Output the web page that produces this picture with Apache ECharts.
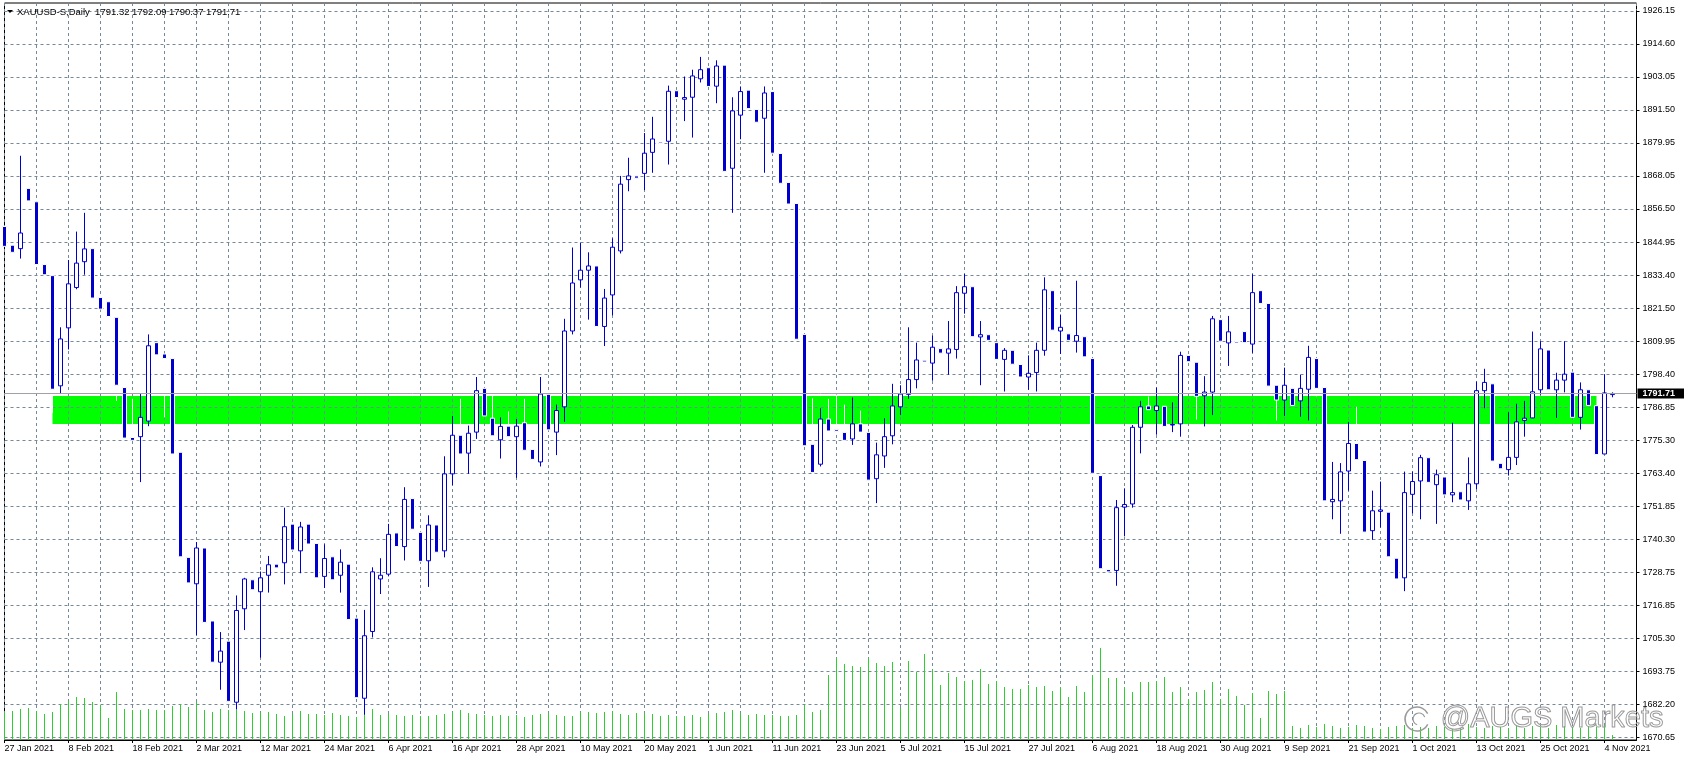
<!DOCTYPE html>
<html><head><meta charset="utf-8">
<script src="https://cdn.jsdelivr.net/npm/echarts@6/dist/echarts.min.js"></script>
<style>html,body{margin:0;padding:0;background:#fff;}#c{width:1684px;height:763px;}</style>
</head><body><div id="c"></div>
<script>
const dates = ['27 Jan 2021','28 Jan 2021','29 Jan 2021',
'1 Feb 2021','2 Feb 2021','3 Feb 2021','4 Feb 2021','5 Feb 2021','8 Feb 2021','9 Feb 2021','10 Feb 2021','11 Feb 2021','12 Feb 2021','15 Feb 2021','16 Feb 2021','17 Feb 2021','18 Feb 2021','19 Feb 2021','22 Feb 2021','23 Feb 2021','24 Feb 2021','25 Feb 2021','26 Feb 2021',
'1 Mar 2021','2 Mar 2021','3 Mar 2021','4 Mar 2021','5 Mar 2021','8 Mar 2021','9 Mar 2021','10 Mar 2021','11 Mar 2021','12 Mar 2021','15 Mar 2021','16 Mar 2021','17 Mar 2021','18 Mar 2021','19 Mar 2021','22 Mar 2021','23 Mar 2021','24 Mar 2021','25 Mar 2021','26 Mar 2021','29 Mar 2021','30 Mar 2021','31 Mar 2021',
'1 Apr 2021','5 Apr 2021','6 Apr 2021','7 Apr 2021','8 Apr 2021','9 Apr 2021','12 Apr 2021','13 Apr 2021','14 Apr 2021','15 Apr 2021','16 Apr 2021','19 Apr 2021','20 Apr 2021','21 Apr 2021','22 Apr 2021','23 Apr 2021','26 Apr 2021','27 Apr 2021','28 Apr 2021','29 Apr 2021','30 Apr 2021',
'3 May 2021','4 May 2021','5 May 2021','6 May 2021','7 May 2021','10 May 2021','11 May 2021','12 May 2021','13 May 2021','14 May 2021','17 May 2021','18 May 2021','19 May 2021','20 May 2021','21 May 2021','24 May 2021','25 May 2021','26 May 2021','27 May 2021','28 May 2021','31 May 2021',
'1 Jun 2021','2 Jun 2021','3 Jun 2021','4 Jun 2021','7 Jun 2021','8 Jun 2021','9 Jun 2021','10 Jun 2021','11 Jun 2021','14 Jun 2021','15 Jun 2021','16 Jun 2021','17 Jun 2021','18 Jun 2021','21 Jun 2021','22 Jun 2021','23 Jun 2021','24 Jun 2021','25 Jun 2021','28 Jun 2021','29 Jun 2021','30 Jun 2021',
'1 Jul 2021','2 Jul 2021','5 Jul 2021','6 Jul 2021','7 Jul 2021','8 Jul 2021','9 Jul 2021','12 Jul 2021','13 Jul 2021','14 Jul 2021','15 Jul 2021','16 Jul 2021','19 Jul 2021','20 Jul 2021','21 Jul 2021','22 Jul 2021','23 Jul 2021','26 Jul 2021','27 Jul 2021','28 Jul 2021','29 Jul 2021','30 Jul 2021',
'2 Aug 2021','3 Aug 2021','4 Aug 2021','5 Aug 2021','6 Aug 2021','9 Aug 2021','10 Aug 2021','11 Aug 2021','12 Aug 2021','13 Aug 2021','16 Aug 2021','17 Aug 2021','18 Aug 2021','19 Aug 2021','20 Aug 2021','23 Aug 2021','24 Aug 2021','25 Aug 2021','26 Aug 2021','27 Aug 2021','30 Aug 2021','31 Aug 2021',
'1 Sep 2021','2 Sep 2021','3 Sep 2021','6 Sep 2021','7 Sep 2021','8 Sep 2021','9 Sep 2021','10 Sep 2021','13 Sep 2021','14 Sep 2021','15 Sep 2021','16 Sep 2021','17 Sep 2021','20 Sep 2021','21 Sep 2021','22 Sep 2021','23 Sep 2021','24 Sep 2021','27 Sep 2021','28 Sep 2021','29 Sep 2021','30 Sep 2021',
'1 Oct 2021','4 Oct 2021','5 Oct 2021','6 Oct 2021','7 Oct 2021','8 Oct 2021','11 Oct 2021','12 Oct 2021','13 Oct 2021','14 Oct 2021','15 Oct 2021','18 Oct 2021','19 Oct 2021','20 Oct 2021','21 Oct 2021','22 Oct 2021','25 Oct 2021','26 Oct 2021','27 Oct 2021','28 Oct 2021','29 Oct 2021',
'1 Nov 2021','2 Nov 2021','3 Nov 2021','4 Nov 2021','5 Nov 2021'];

const opens = [1850.5,1843.9,1842.7,1863.9,1859.2,1837.1,1833.2,1794.4,1814.8,1829.0,
1838.1,1842.7,1825.5,1824.0,1818.5,1793.8,1776.2,1776.5,1782.0,1809.6,
1805.6,1804.0,1771.0,1734.0,1724.7,1737.3,1711.6,1697.1,1704.5,1683.0,
1715.9,1726.1,1721.9,1727.7,1731.6,1732.1,1745.7,1736.3,1745.7,1738.9,
1727.3,1734.2,1727.7,1731.6,1712.6,1684.4,1707.9,1726.4,1728.1,1742.6,
1737.8,1754.7,1742.8,1732.8,1745.4,1736.3,1763.4,1777.0,1770.7,1778.1,
1793.5,1783.0,1775.4,1780.2,1776.5,1781.4,1772.0,1767.6,1791.4,1778.1,
1787.0,1813.7,1831.7,1835.1,1836.6,1815.3,1826.4,1841.9,1867.0,1868.3,
1869.2,1876.6,1880.2,1880.5,1898.3,1895.3,1896.0,1902.5,1906.4,1899.9,
1907.3,1871.0,1889.7,1898.5,1891.7,1888.6,1898.0,1876.2,1866.0,1858.6,
1812.5,1773.8,1766.8,1782.7,1778.9,1778.0,1775.7,1781.0,1778.0,1761.7,
1769.7,1776.8,1787.0,1791.4,1796.6,1803.4,1802.4,1807.5,1805.9,1807.2,
1827.0,1829.3,1811.6,1812.4,1809.6,1803.7,1806.9,1801.9,1797.5,1799.1,
1806.9,1827.9,1813.7,1812.7,1810.1,1811.7,1804.0,1762.8,1729.7,1729.4,
1751.7,1752.8,1779.8,1787.3,1785.7,1787.2,1780.6,1781.0,1805.1,1802.7,
1790.9,1792.2,1817.7,1809.5,1810.0,1813.5,1809.1,1827.9,1823.4,1794.6,
1789.4,1793.5,1789.1,1793.2,1804.0,1793.8,1753.6,1753.9,1764.4,1774.1,
1768.1,1743.4,1750.2,1749.9,1733.7,1726.8,1756.2,1760.9,1769.1,1759.6,
1762.3,1756.0,1757.1,1753.9,1759.9,1792.7,1795.1,1767.1,1764.9,1769.2,
1782.2,1783.1,1793.0,1807.0,1793.0,1796.4,1799.2,1783.3,1793.0,1787.4,
1770.4,1791.32];

const closes = [1843.5,1841.4,1848.2,1859.5,1837.1,1833.5,1793.2,1810.9,1830.3,1837.6,
1842.6,1825.3,1821.4,1818.8,1794.6,1776.0,1775.2,1783.3,1808.5,1805.3,
1804.0,1770.4,1734.2,1725.0,1737.3,1711.1,1697.1,1701.0,1683.3,1715.3,
1726.4,1722.6,1726.8,1731.4,1730.3,1744.8,1736.6,1744.7,1738.7,1726.8,
1733.6,1726.1,1732.3,1712.1,1684.6,1706.4,1728.9,1727.7,1742.1,1737.8,
1754.4,1743.9,1732.6,1745.4,1735.8,1763.4,1777.0,1770.4,1777.7,1792.7,
1783.8,1776.8,1780.1,1776.5,1780.2,1771.7,1768.5,1791.5,1778.9,1785.7,
1813.7,1830.6,1835.1,1836.6,1815.3,1825.3,1843.2,1865.4,1868.3,1867.5,
1876.3,1881.3,1879.7,1898.1,1895.9,1895.9,1903.5,1905.7,1899.8,1907.0,
1869.9,1891.2,1898.0,1892.0,1887.2,1897.5,1876.3,1865.7,1858.4,1810.8,
1773.3,1763.9,1782.7,1778.5,1778.3,1775.2,1781.0,1778.1,1761.2,1770.1,
1776.5,1787.3,1791.5,1796.6,1803.5,1802.8,1808.0,1805.9,1807.4,1827.2,
1829.3,1811.7,1812.4,1810.4,1803.7,1806.9,1802.0,1797.5,1798.8,1806.9,
1828.2,1814.0,1815.0,1810.4,1812.1,1804.6,1763.6,1730.0,1728.9,1751.5,
1752.6,1779.8,1787.0,1786.0,1787.3,1780.1,1780.8,1805.1,1802.9,1790.7,
1792.2,1818.0,1810.1,1813.4,1809.5,1809.6,1827.2,1823.4,1794.3,1789.4,
1794.6,1787.5,1793.5,1804.4,1793.5,1753.9,1754.4,1764.1,1774.1,1768.4,
1742.9,1750.4,1750.7,1734.2,1726.4,1756.8,1760.7,1769.1,1760.4,1763.1,
1756.0,1756.8,1754.2,1759.9,1792.7,1795.6,1767.9,1765.2,1769.2,1781.7,
1783.0,1792.3,1807.4,1793.0,1796.4,1798.5,1783.3,1793.0,1787.5,1770.2,
1791.9,1791.71];

const highs = [1850.5,1843.9,1875.4,1863.9,1859.2,1837.1,1833.2,1815.0,1838.7,1848.7,
1855.3,1842.7,1825.5,1824.0,1818.5,1793.8,1789.8,1791.5,1812.5,1809.6,
1805.6,1804.0,1771.0,1734.0,1739.4,1737.3,1711.6,1707.7,1704.5,1720.6,
1726.8,1726.1,1729.0,1734.5,1731.6,1751.5,1745.7,1746.5,1745.7,1738.9,
1738.6,1734.2,1736.8,1731.6,1712.6,1715.5,1730.5,1733.7,1745.8,1742.6,
1758.7,1754.7,1742.8,1748.8,1745.4,1769.6,1783.8,1789.8,1780.4,1797.5,
1793.5,1791.5,1783.3,1785.4,1782.7,1789.8,1772.0,1797.5,1791.4,1787.8,
1818.0,1843.1,1844.8,1841.4,1836.6,1828.5,1846.3,1868.3,1874.7,1868.3,
1883.4,1889.1,1880.2,1900.1,1898.3,1903.3,1905.7,1910.2,1906.4,1909.0,
1907.3,1896.0,1899.8,1898.5,1891.7,1899.8,1898.0,1876.2,1866.0,1858.6,
1812.5,1790.0,1786.5,1789.8,1791.3,1787.8,1790.3,1785.7,1778.0,1774.4,
1783.0,1795.1,1794.6,1815.0,1809.6,1803.4,1812.1,1807.5,1817.2,1829.5,
1833.8,1829.3,1817.2,1812.4,1809.6,1807.7,1806.9,1801.9,1805.1,1809.6,
1832.6,1827.9,1819.5,1812.7,1831.4,1811.7,1804.0,1762.8,1729.7,1754.2,
1758.3,1780.6,1789.1,1790.6,1793.8,1787.2,1788.6,1806.4,1805.1,1802.7,
1797.8,1819.0,1817.7,1819.0,1810.0,1813.5,1833.7,1827.9,1823.4,1794.6,
1800.8,1793.5,1798.3,1808.5,1804.0,1793.8,1767.6,1767.2,1781.7,1787.0,
1768.1,1757.5,1760.7,1749.9,1733.7,1764.2,1764.2,1770.1,1769.1,1764.9,
1762.3,1781.4,1757.1,1769.2,1795.9,1800.4,1795.1,1767.1,1785.1,1788.1,
1789.1,1813.5,1810.1,1807.0,1799.0,1810.1,1799.2,1795.6,1793.0,1787.4,
1798.5,1792.09];

const lows = [1843.5,1841.4,1839.2,1859.5,1837.1,1833.5,1784.9,1791.5,1807.2,1828.4,
1833.5,1825.3,1821.4,1818.8,1789.1,1776.0,1775.2,1760.5,1780.2,1805.3,
1783.3,1770.4,1734.2,1725.0,1706.6,1711.1,1697.1,1687.4,1683.3,1680.4,
1708.4,1722.6,1698.7,1721.6,1730.3,1724.5,1736.6,1728.4,1738.7,1726.8,
1723.2,1726.1,1721.6,1712.1,1684.6,1678.6,1705.8,1721.1,1727.3,1737.8,
1732.9,1743.9,1732.6,1723.6,1735.8,1734.0,1759.4,1770.4,1763.4,1775.7,
1783.8,1776.8,1768.8,1776.5,1762.0,1771.7,1768.5,1766.0,1778.9,1770.0,
1781.7,1812.5,1829.0,1817.7,1815.3,1808.4,1819.2,1841.0,1862.9,1867.5,
1863.3,1869.4,1879.7,1872.3,1895.9,1887.6,1881.8,1901.2,1899.8,1893.9,
1869.9,1855.3,1881.2,1892.0,1887.2,1869.4,1876.3,1865.7,1858.4,1810.8,
1773.3,1763.9,1766.0,1778.5,1778.3,1775.2,1773.6,1778.1,1761.2,1753.1,
1765.5,1773.8,1784.1,1789.8,1793.5,1802.8,1796.2,1805.9,1798.3,1804.0,
1819.8,1811.7,1794.6,1810.4,1803.7,1792.4,1790.7,1797.5,1793.0,1792.4,
1805.0,1814.0,1805.6,1810.4,1806.1,1804.6,1763.6,1730.0,1728.9,1724.0,
1741.4,1751.5,1770.6,1786.0,1777.2,1775.2,1778.1,1776.5,1802.9,1782.5,
1780.1,1784.1,1810.1,1801.4,1809.5,1809.6,1806.0,1823.4,1794.3,1782.2,
1783.8,1787.5,1783.5,1782.2,1790.7,1753.9,1747.4,1742.3,1757.5,1768.4,
1742.9,1740.2,1744.5,1734.2,1726.4,1722.1,1749.5,1747.4,1760.4,1745.8,
1756.0,1753.4,1754.2,1750.7,1758.0,1786.5,1767.9,1765.2,1762.8,1766.5,
1776.5,1783.0,1791.3,1793.0,1783.1,1792.1,1783.3,1779.0,1787.5,1770.2,
1770.4,1790.37];

const volumes = [28,29,31,32,29,26,28,36,39,43,42,38,35,22,48,31,30,30,31,30,30,34,36,33,38,
30,28,31,30,30,29,27,27,28,26,24,26,29,26,26,25,27,25,24,23,26,31,25,
26,25,24,25,24,24,25,26,28,30,27,26,25,24,25,24,25,23,25,26,27,25,24,24,
28,28,27,28,29,26,25,27,27,26,24,25,24,24,25,23,26,27,28,30,27,25,26,25,25,24,24,25,35,28,
30,
65,82,76,74,73,82,77,74,78,32,79,68,86,70,55,67,63,
59,60,71,56,59,53,51,51,55,53,54,49,53,43,54,48,65,92,62,62,53,48,58,58,
59,63,48,53,41,48,50,58,41,51,44,35,47,22,49,46,49,
14,12,15,13,16,14,12,13,15,14,12,11,13,14,15,12,13,12,14,13,11,12,16,13,12,14,13,12,15,12,14,13,12,15,14,13,12,14,13,15,5];

const priceLabels = ['1670.65','1682.20','1693.75','1705.30','1716.85','1728.75','1740.30','1751.85','1763.40','1775.30','1786.85','1798.40','1809.95','1821.50','1833.40','1844.95','1856.50','1868.05','1879.95','1891.50','1903.05','1914.60','1926.15'];

const bandLow = 1781.0, bandHigh = 1790.8;
const bandFrom = '4 Feb 2021', bandTo = '3 Nov 2021';
const lastPrice = 1791.71;
const headerText = 'XAUUSD-S,Daily  1791.32 1792.09 1790.37 1791.71';
const watermark = '@AUGS Markets';

// ---------- chart ----------
const BLUE = '#0000cd', GRIDC = '#778899', VOLC = '#32cd32', BANDC = '#00ff00', WMC = '#9a9a9a';
const FONT = '"Liberation Sans", Arial, sans-serif';
const cats = dates.concat(['', '', '']);
const PMIN = 1670.65, PSTEP = 11.625, PMAX = PMIN + PSTEP * 22;
const candleData = opens.map((o, i) => [o, closes[i], lows[i], highs[i]]);
const bandData = [[dates.indexOf(bandFrom), dates.indexOf(bandTo), bandLow, bandHigh]];

const chart = echarts.init(document.getElementById('c'), null, {renderer: 'canvas'});
chart.setOption({
  animation: false,
  backgroundColor: '#ffffff',
  grid: [
    {left: 4.5, right: 47.5, top: 3, bottom: 23, show: true, borderColor: '#000', borderWidth: 1, backgroundColor: 'transparent'},
    {left: 4.5, right: 47.5, top: 10.9, bottom: 25.7}
  ],
  xAxis: [
    {type: 'category', gridIndex: 0, data: cats, boundaryGap: false,
     axisLine: {show: true, lineStyle: {color: '#000', width: 1}},
     axisTick: {show: true, length: 3, interval: (i) => i % 8 === 0 && i < dates.length, lineStyle: {color: '#000'}},
     axisLabel: {show: true, interval: (i) => i % 8 === 0 && i < dates.length, align: 'left', margin: 4,
                 fontSize: 9, color: '#000', fontFamily: FONT},
     splitLine: {show: true, interval: (i) => i % 4 === 0, lineStyle: {color: GRIDC, type: [3, 3], width: 1}}},
    {type: 'category', gridIndex: 1, data: cats, boundaryGap: false, show: false}
  ],
  yAxis: [
    {type: 'value', gridIndex: 0, min: 0, max: 737, show: false, splitLine: {show: false}},
    {type: 'value', gridIndex: 1, position: 'right', min: PMIN, max: PMAX, interval: PSTEP,
     axisLine: {show: true, lineStyle: {color: '#000'}},
     axisTick: {show: true, length: 3, lineStyle: {color: '#000'}},
     axisLabel: {show: true, margin: 6, fontSize: 9, color: '#000', fontFamily: FONT, showMinLabel: true, showMaxLabel: true,
                 formatter: (v) => { const k = Math.round((v - PMIN) / PSTEP); return priceLabels[k] || ''; }},
     splitLine: {show: true, lineStyle: {color: GRIDC, type: [3, 3], width: 1}}}
  ],
  series: [
    {type: 'custom', name: 'zone', xAxisIndex: 1, yAxisIndex: 1, z: -1, silent: true,
     encode: {x: [0, 1], y: [2, 3]}, clip: true,
     renderItem: (params, api) => {
       const a = api.coord([api.value(0), api.value(3)]);
       const b = api.coord([api.value(1), api.value(2)]);
       return {type: 'rect', shape: {x: a[0], y: a[1], width: b[0] - a[0], height: b[1] - a[1]},
               style: {fill: BANDC}};
     },
     data: bandData},
    {type: 'bar', name: 'Volume', xAxisIndex: 0, yAxisIndex: 0, data: volumes, barWidth: 1,
     itemStyle: {color: VOLC}, z: 1, silent: true},
    {type: 'candlestick', name: 'XAUUSD', xAxisIndex: 1, yAxisIndex: 1, data: candleData, barWidth: 4, z: 3,
     itemStyle: {color: '#ffffff', color0: BLUE, borderColor: BLUE, borderColor0: '#ffffff', borderWidth: 1},
     markLine: {silent: true, symbol: ['none', 'none'], animation: false,
       lineStyle: {color: '#a0a0a8', type: 'solid', width: 1},
       label: {show: true, position: 'end', distance: 1, formatter: lastPrice.toFixed(2), color: '#fff',
               backgroundColor: '#000', padding: [1, 9, 0, 5], fontSize: 9, fontFamily: FONT, fontWeight: 'bold'},
       data: [{yAxis: lastPrice}]}}
  ],
  graphic: [
    {type: 'polygon', shape: {points: [[7, 10], [13, 10], [10, 13]]}, style: {fill: '#000'}, z: 10},
    {type: 'text', left: 17, top: 7, z: 10, style: {text: headerText, font: '9.5px ' + FONT, fill: '#000'}},
    {type: 'arc', z: 10, silent: true, shape: {cx: 1417, cy: 719, r: 12, startAngle: Math.PI * 0.15, endAngle: Math.PI * 1.85, clockwise: true},
     style: {stroke: WMC, fill: 'none', lineWidth: 1.5}},
    {type: 'arc', z: 10, silent: true, shape: {cx: 1419, cy: 719, r: 6, startAngle: Math.PI * 0.6, endAngle: Math.PI * 1.9, clockwise: true},
     style: {stroke: WMC, fill: 'none', lineWidth: 1.2}},
    {type: 'text', right: 20, bottom: 29, z: 10, silent: true,
     style: {text: watermark, font: '29px ' + FONT, fill: 'rgba(255,255,255,0)', stroke: WMC, lineWidth: 1}}
  ]
});
</script></body></html>
